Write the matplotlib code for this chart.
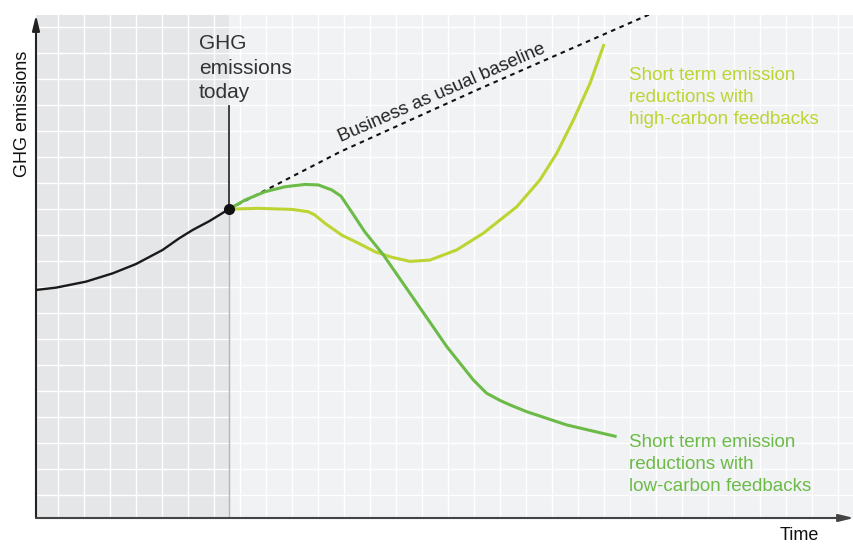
import numpy as np
import matplotlib
matplotlib.use("Agg")
import matplotlib.pyplot as plt

plt.rcParams['font.family'] = ['Liberation Sans', 'DejaVu Sans']

# Data (grid units: one grid cell = 1)
today_x, today_y = 7.42, 11.88

hist_x = [0.0, 0.77, 1.92, 2.95, 3.85, 4.87, 5.51, 6.03, 6.67, 7.42]
hist_y = [8.77, 8.86, 9.09, 9.41, 9.77, 10.31, 10.76, 11.08, 11.42, 11.88]

bau_x = [7.42, 11.69, 16.95, 23.62]
bau_y = [11.88, 14.08, 16.46, 19.38]

low_x = [7.42, 8.04, 8.81, 9.58, 10.35, 10.86, 11.37, 11.73, 12.14, 12.65,
         13.36, 14.51, 15.80, 16.82, 17.33, 17.85, 18.23, 18.87, 20.41, 22.33]
low_y = [11.88, 12.23, 12.55, 12.74, 12.83, 12.81, 12.62, 12.38, 11.77, 11.00,
         10.12, 8.46, 6.59, 5.31, 4.80, 4.52, 4.35, 4.09, 3.58, 3.13]

high_x = [7.42, 8.55, 9.83, 10.47, 10.73, 11.12, 11.76, 12.40, 13.04, 13.68,
          14.38, 15.15, 16.18, 17.20, 18.49, 19.38, 20.03, 20.67, 21.31, 21.85]
high_y = [11.88, 11.91, 11.87, 11.78, 11.65, 11.33, 10.88, 10.57, 10.24, 10.03,
          9.87, 9.92, 10.31, 10.95, 11.97, 13.00, 14.03, 15.31, 16.72, 18.23]

dark_green = '#6cbb48'
light_green = '#bdd432'

fig = plt.figure(figsize=(8.54, 5.44), dpi=100)
ax = fig.add_axes([36 / 854, 26 / 544, 818 / 854, 503 / 544])
ax.set_xlim(0, 818 / 26)
ax.set_ylim(0, 503 / 26)

# background and grid
ax.set_facecolor('#f1f2f4')
ax.axvspan(0, today_x, color='#e5e6e8', lw=0)
ax.set_xticks(np.arange(0.86, 818 / 26, 1))
ax.set_yticks(np.arange(0.87, 503 / 26, 1))
ax.tick_params(length=0, labelbottom=False, labelleft=False)
ax.set_axisbelow('line')
ax.grid(color='white', lw=1.0)
for s in ax.spines.values():
    s.set_visible(False)

# axes arrows
ax.annotate('', xy=(0, 1.0), xytext=(0, 0), xycoords='axes fraction',
            arrowprops=dict(arrowstyle='-|>,head_length=0.9,head_width=0.22',
                            color='#222222', lw=1.5, shrinkA=0, shrinkB=0))
ax.annotate('', xy=(1.0, 0), xytext=(0, 0), xycoords='axes fraction',
            arrowprops=dict(arrowstyle='-|>,head_length=0.9,head_width=0.22',
                            color='#444444', lw=1.5, shrinkA=0, shrinkB=0))

# today marker lines
ax.plot([today_x, today_x], [0, today_y], color='#b5b5b5', lw=1.0, zorder=1.6)
ax.plot([today_x, today_x], [today_y, 15.85], color='#333333', lw=1.3, zorder=2)

# series
ax.plot(bau_x, bau_y, color='#111111', lw=1.5, dashes=(2.2, 2.2), zorder=2)
ax.plot(high_x, high_y, color=light_green, lw=2.2, solid_capstyle='butt',
        solid_joinstyle='round', zorder=3)
ax.plot(low_x, low_y, color=dark_green, lw=2.2, solid_capstyle='butt',
        solid_joinstyle='round', zorder=3)
ax.plot(hist_x, hist_y, color='#1a1a1a', lw=1.7, solid_joinstyle='round', zorder=3)
ax.plot([today_x], [today_y], 'o', color='#111111', ms=7, zorder=4)

# text
ax.text(6.27, 18.61, 'GHG\nemissions\ntoday', fontsize=15, color='#333333',
        ha='left', va='top', linespacing=1.37)
ax.text(15.69, 16.19, 'Business as usual baseline', fontsize=13.4,
        color='#222222', rotation=23.6, rotation_mode='anchor',
        ha='center', va='baseline')
ax.text(22.82, 17.33, 'Short term emission\nreductions with\nhigh-carbon feedbacks',
        fontsize=13.5, color=light_green, ha='left', va='top', linespacing=1.37)
ax.text(22.82, 3.22, 'Short term emission\nreductions with\nlow-carbon feedbacks',
        fontsize=13.5, color=dark_green, ha='left', va='top', linespacing=1.37)
ax.text(28.6, -0.35, 'Time', fontsize=13, color='#111111', ha='left',
        va='top', clip_on=False)
ax.text(-0.5, 15.54, 'GHG emissions', fontsize=13, color='#111111',
        rotation=90, ha='center', va='center', clip_on=False)

fig.savefig('out.png', dpi=100)
